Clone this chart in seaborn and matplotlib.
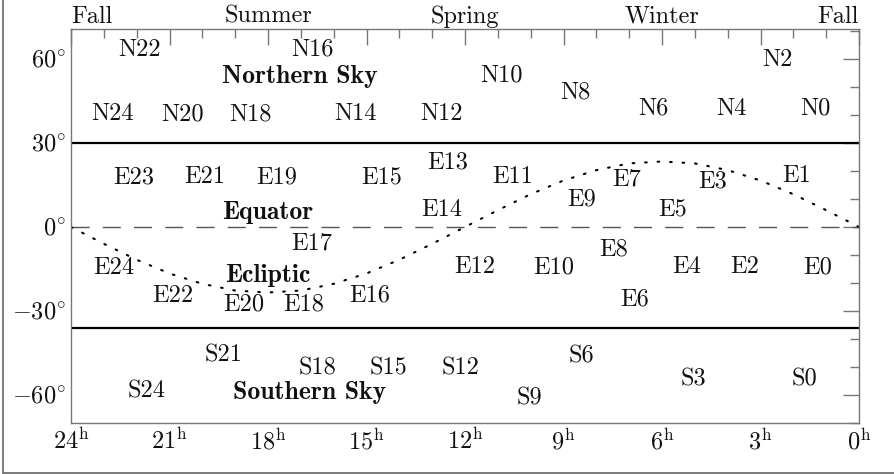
import matplotlib
matplotlib.use("Agg")
import matplotlib.pyplot as plt
import seaborn as sns
import pandas as pd
from matplotlib.lines import Line2D

# 1. DATA (right ascension in hours, declination in degrees)

ecl_ra = [24, 23, 22, 21, 20, 19, 18, 17, 16, 15, 14, 13, 12,
          11, 10, 9, 8, 7, 6, 5, 4, 3, 2, 1, 0]
ecl_dec = [0, -6.0, -11.7, -16.6, -20.3, -22.7, -23.4, -22.7, -20.3, -16.6, -11.7, -6.0, 0,
           6.0, 11.7, 16.6, 20.3, 22.7, 23.4, 22.7, 20.3, 16.6, 11.7, 6.0, 0]

north_labels = ["N22", "N16", "N24", "N20", "N18", "N14", "N12", "N10", "N8", "N6", "N4", "N2", "N0"]
north_ra = [21.9, 16.66, 22.72, 20.6, 18.52, 15.32, 12.73, 10.9, 8.65, 6.27, 3.87, 2.47, 1.34]
north_dec = [63.3, 63.5, 40.2, 40.2, 40.2, 40.2, 40.2, 54.0, 48.0, 42.3, 42.3, 59.8, 42.3]

eq_labels = ["E23", "E21", "E19", "E15", "E13", "E11", "E9", "E7", "E3", "E1", "E5", "E14",
             "E17", "E24", "E22", "E20", "E18", "E16", "E12", "E10", "E8", "E4", "E2", "E0", "E6"]
eq_ra = [22.1, 19.92, 17.73, 14.53, 12.52, 10.54, 8.44, 7.07, 4.45, 1.89, 5.67, 12.7,
         16.66, 22.7, 20.9, 18.73, 16.9, 14.9, 11.71, 9.3, 7.46, 5.24, 3.47, 1.25, 6.84]
eq_dec = [17.7, 17.7, 17.7, 17.7, 22.9, 17.7, 10.0, 17.0, 16.4, 18.2, 6.2, 6.0,
          -5.9, -14.5, -24.5, -27.8, -27.8, -24.3, -14.3, -14.3, -8.0, -14.3, -14.3, -14.3, -25.9]

south_labels = ["S21", "S18", "S15", "S24", "S12", "S9", "S6", "S3", "S0"]
south_ra = [19.34, 16.5, 14.32, 21.69, 12.12, 10.05, 8.45, 5.04, 1.66]
south_dec = [-46.0, -50.4, -50.4, -58.6, -50.4, -61.4, -46.3, -54.5, -54.5]

region_labels = ["Northern Sky", "Equator", "Ecliptic", "Southern Sky"]
region_ra = [17.03, 18.0, 18.0, 16.72]
region_dec = [53.6, 5.0, -17.4, -59.2]

season_labels = ["Fall", "Summer", "Spring", "Winter", "Fall"]
season_ra = [24, 18, 12, 6, 0]

boundary_north = 30
boundary_south = -36

x_ticks = [24, 21, 18, 15, 12, 9, 6, 3, 0]
y_ticks = [60, 30, 0, -30, -60]

# 2. STYLE

sns.set_theme(style="white")
plt.rcParams["font.family"] = ["cmr10", "DejaVu Serif"]
plt.rcParams["mathtext.fontset"] = "cm"
plt.rcParams["axes.unicode_minus"] = False

FS = 17.5
GRAY = "#777777"

fig = plt.figure(figsize=(8.94, 4.74), dpi=100)
ax = fig.add_axes([71 / 894, 1 - 423 / 474, 788 / 894, 394 / 474])

# 3. LINES

ax.axhline(boundary_north, color="black", lw=1.6, zorder=2)
ax.axhline(boundary_south, color="black", lw=1.6, zorder=2)
ax.axhline(0, color="#555555", lw=1.0, dashes=(13, 9.5), zorder=2)

ecl = pd.DataFrame({"ra": ecl_ra, "dec": ecl_dec})
sns.lineplot(data=ecl, x="ra", y="dec", ax=ax, color="black", lw=1.5,
             sort=False, estimator=None, dashes=False)
ax.lines[-1].set_linestyle((0, (0.8, 5.2)))
ax.lines[-1].set_dash_capstyle("round")

# 4. LABELS

for lab, r, d in zip(north_labels + eq_labels + south_labels,
                     north_ra + eq_ra + south_ra,
                     north_dec + eq_dec + south_dec):
    ax.text(r, d, lab, ha="center", va="center", fontsize=FS, color="#111111")

for lab, r, d in zip(region_labels, region_ra, region_dec):
    ax.text(r, d, lab, ha="center", va="center", fontsize=FS + 1,
            fontfamily="cmb10", color="#111111")

xtr = ax.get_xaxis_transform()
for i, (lab, r) in enumerate(zip(season_labels, season_ra)):
    ha = "left" if i == 0 else ("right" if i == len(season_labels) - 1 else "center")
    ax.text(r, 1.016, lab, transform=xtr, ha=ha, va="baseline", fontsize=FS, color="#111111")

# 5. AXES

ax.set_xlim(24, 0)
ax.set_ylim(-70, 70.7)
ax.set_xlabel("")
ax.set_ylabel("")
ax.set_xticks(x_ticks)
ax.set_xticklabels([r"$%d^{\mathrm{h}}$" % t for t in x_ticks], fontsize=FS)
ax.set_xticks(range(0, 25), minor=True)
ax.set_yticks(y_ticks)
ax.set_yticklabels([r"$%d^{\circ}$" % t for t in y_ticks], fontsize=FS)
ax.set_yticks(range(-70, 71, 10), minor=True)

ax.tick_params(which="both", direction="in", top=True, right=True, color=GRAY, width=1.0,
               labelcolor="#111111")
ax.tick_params(which="major", length=11.5)
ax.tick_params(which="minor", length=6.5)
ax.tick_params(axis="x", which="major", pad=4)
ax.tick_params(axis="y", which="major", pad=4)
for s in ax.spines.values():
    s.set_color(GRAY)
    s.set_linewidth(1.0)

# figure frame (left and bottom edges only)
fig.add_artist(Line2D([2.5 / 894, 2.5 / 894], [1.5 / 474, 1], color="#666666", lw=1.2,
                      transform=fig.transFigure))
fig.add_artist(Line2D([2.5 / 894, 1], [1.5 / 474, 1.5 / 474], color="#666666", lw=1.2,
                      transform=fig.transFigure))

fig.savefig("out.png", dpi=100)
plt.close()
